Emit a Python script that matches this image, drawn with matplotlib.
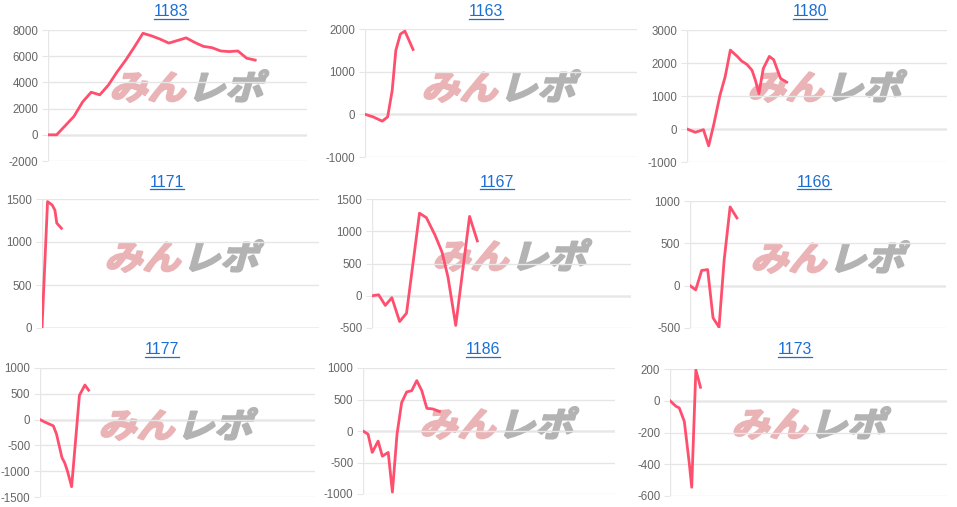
import numpy as np
import matplotlib
matplotlib.use('Agg')
import matplotlib.pyplot as plt
from matplotlib.textpath import TextPath
from matplotlib.patches import PathPatch
from matplotlib.font_manager import FontProperties
from matplotlib.transforms import Affine2D
from matplotlib.lines import Line2D

plt.rcParams['font.family'] = ['Liberation Sans', 'DejaVu Sans']
plt.rcParams['axes.unicode_minus'] = False

W, H = 957, 507

# machine numbers
titles = ['1183', '1163', '1180', '1171', '1167', '1166', '1177', '1186', '1173']

# x positions of the samples (0..30 spans the full plot width), y = difference in coins
x_1183 = list(range(25))
y_1183 = [0, 0, 700, 1400, 2500, 3250, 3050, 3800, 4800, 5700, 6700, 7750, 7550,
          7300, 7000, 7200, 7400, 7050, 6750, 6650, 6400, 6350, 6400, 5850, 5700]

x_1163 = [0, 0.9, 1.9, 2.5, 3.0, 3.4, 3.9, 4.4, 5.3]
y_1163 = [0, -60, -160, -60, 560, 1500, 1880, 1950, 1520]

x_1180 = [0, 0.96, 1.9, 2.5, 3.1, 3.8, 4.4, 5.0, 5.8, 6.3, 6.9, 7.5, 7.9, 8.3, 8.8,
          9.5, 10.0, 10.8, 11.5]
y_1180 = [0, -100, -20, -510, 150, 1020, 1580, 2390, 2200, 2060, 1960, 1780, 1470,
          1070, 1830, 2200, 2100, 1530, 1420]

x_1171 = [0, 0.6, 1.1, 1.4, 1.6, 2.1]
y_1171 = [0, 1470, 1430, 1370, 1220, 1160]

x_1167 = [0, 0.77, 1.54, 2.3, 3.2, 4.0, 5.5, 6.3, 7.3, 8.1, 8.8, 9.7, 11.3, 12.2]
y_1167 = [0, 15, -150, -30, -400, -270, 1280, 1210, 940, 680, 290, -460, 1230, 850]

x_1166 = [0, 0.67, 1.37, 2.07, 2.7, 3.4, 4.0, 4.7, 5.5]
y_1166 = [0, -50, 180, 190, -380, -490, 300, 930, 800]

x_1177 = [0, 0.55, 1.45, 1.8, 2.4, 2.7, 3.0, 3.45, 4.3, 4.9, 5.3]
y_1177 = [0, -50, -120, -280, -740, -840, -1000, -1300, 470, 670, 570]

x_1186 = [0, 0.6, 1.1, 1.8, 2.3, 3.0, 3.5, 4.05, 4.6, 5.2, 5.8, 6.4, 7.0, 7.6, 8.3, 9.1]
y_1186 = [0, -50, -340, -160, -400, -340, -970, -50, 450, 620, 640, 800, 640, 360, 350, 310]

x_1173 = [0, 0.65, 1.0, 1.55, 2.1, 2.35, 2.8, 3.3]
y_1173 = [0, -35, -45, -130, -400, -545, 195, 85]

xs = [x_1183, x_1163, x_1180, x_1171, x_1167, x_1166, x_1177, x_1186, x_1173]
ys = [y_1183, y_1163, y_1180, y_1171, y_1167, y_1166, y_1177, y_1186, y_1173]

# y axis range and step for each chart
y_ranges = [(-2000, 8000, 2000), (-1000, 2000, 1000), (-1000, 3000, 1000),
            (0, 1500, 500), (-500, 1500, 500), (-500, 1000, 500),
            (-1500, 1000, 500), (-1000, 1000, 500), (-600, 200, 200)]

# layout in pixels: plot box (left, top, right, bottom), title centre, logo centre
boxes = [(48, 30, 307, 161), (365, 29, 637, 157), (687, 30, 947, 162),
         (42, 199, 319, 328), (372, 199, 631, 328), (690, 201, 946, 328),
         (40, 368, 315, 497), (363, 368, 615, 494), (670, 369, 947, 496)]
title_pos = [(171, 12), (486, 12), (810, 12),
             (167, 182), (497, 182), (814, 182),
             (162, 350), (483, 350), (795, 350)]
logo_pos = [(189, 86), (501, 86), (827, 86),
            (184, 256), (512, 255), (830, 257),
            (178, 424), (499, 423), (811, 423)]

line_color = '#ff4f6e'
grid_color = '#e6e6e6'

fig = plt.figure(figsize=(W / 100, H / 100), dpi=100)

logo_font = FontProperties(family='Noto Sans CJK JP', weight='bold')
path_a = TextPath((0, 0), 'みん', size=1, prop=logo_font)
path_b = TextPath((2.05, 0), 'レポ', size=1, prop=logo_font)
logo_base = Affine2D().skew_deg(14, 0).scale(38, 34)
pts = np.vstack([logo_base.transform(path_a.vertices), logo_base.transform(path_b.vertices)])
logo_mid = ((pts[:, 0].min() + pts[:, 0].max()) / 2, (pts[:, 1].min() + pts[:, 1].max()) / 2)

title_texts = []
for i in range(9):
    l, t, r, b = boxes[i]
    ax = fig.add_axes([l / W, 1 - b / H, (r - l) / W, (b - t) / H])
    lo, hi, step = y_ranges[i]

    ax.plot(xs[i], ys[i], color=line_color, lw=2.0, zorder=3, solid_joinstyle='round')

    ax.set_xlim(0, 30)
    ax.set_ylim(lo, hi)
    ax.set_xticks([])
    ax.set_yticks(np.arange(lo, hi + step, step))
    ax.tick_params(axis='y', length=4, color=grid_color, labelsize=8.3,
                   labelcolor='#666666', pad=3)
    for s in ax.spines.values():
        s.set_visible(False)
    ax.grid(axis='y', color=grid_color, lw=1, zorder=0)
    ax.axvline(0, color=grid_color, lw=1, zorder=0)
    ax.axhline(0, color='#b4b4b4', lw=1, zorder=1)

    # watermark logo
    cx, cy = logo_pos[i]
    tr = (logo_base + Affine2D().translate(cx - logo_mid[0], (H - cy) - logo_mid[1])
          + Affine2D().scale(1 / W, 1 / H) + fig.transFigure)
    ax.add_artist(PathPatch(path_a, transform=tr, facecolor='#eab3b6', edgecolor='#eab3b6',
                            lw=1.6, joinstyle='round', zorder=1))
    ax.add_artist(PathPatch(path_b, transform=tr, facecolor='#b3b3b3', edgecolor='#b3b3b3',
                            lw=1.6, joinstyle='round', zorder=1))

    tx, ty = title_pos[i]
    title_texts.append(fig.text(tx / W, 1 - ty / H, titles[i], ha='center', va='center',
                                fontsize=11.5, color='#1a6fd6'))

# underline the titles like links
fig.canvas.draw()
renderer = fig.canvas.get_renderer()
for txt in title_texts:
    bb = txt.get_window_extent(renderer)
    yl = bb.y0 + 1
    fig.add_artist(Line2D([bb.x0 / W, bb.x1 / W], [yl / H, yl / H], color='#1a6fd6',
                          lw=0.9, transform=fig.transFigure))

plt.savefig('out.png', dpi=100)
